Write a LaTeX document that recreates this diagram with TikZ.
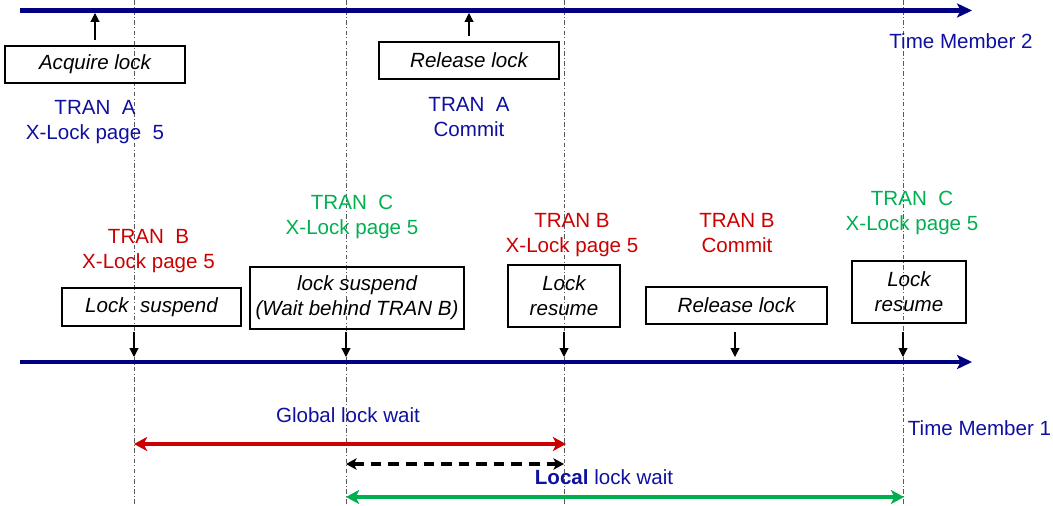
\documentclass[tikz,border=0pt]{standalone}
\usepackage{fontspec}
\setmainfont{Liberation Sans}
\usetikzlibrary{arrows.meta}
\definecolor{axisblue}{RGB}{0,0,128}
\definecolor{textblue}{RGB}{16,16,160}
\definecolor{tranred}{RGB}{204,0,0}
\definecolor{trangreen}{RGB}{0,176,80}
\begin{document}
\begin{tikzpicture}[x=0.02cm,y=-0.02cm,
    every node/.style={inner sep=0pt,font=\fontsize{11.7}{14.2}\selectfont},
    evbox/.style={draw,line width=0.75pt,align=center,font=\fontsize{11.7}{14.2}\selectfont\itshape},
    lbl/.style={align=center},
    timeline/.style={draw=axisblue,line width=2.3pt,-{Stealth[length=8.5pt,width=8pt,inset=2pt]}},
    tick/.style={line width=0.6pt,-{Triangle[length=5pt,width=5pt]}},
    guide/.style={line width=0.5pt,black!65,dash pattern=on 2.6pt off 1.3pt on 0.6pt off 1.3pt},
    span/.style={line width=2.2pt,{Stealth[length=7.5pt,width=8pt,inset=2pt]}-{Stealth[length=7.5pt,width=8pt,inset=2pt]}}]
    \useasboundingbox (0,0) rectangle (1053,506);

    \foreach \x [count=\i] in {134,346,564,903} {
        \coordinate (g\i) at (\x,0); \coordinate (h\i) at (\x,506);
        \draw[guide] (g\i) -- (h\i);
    }

    \coordinate (m2start) at (20,10.5); \coordinate (m2end) at (972,10.5);
    \coordinate (m1start) at (20,362); \coordinate (m1end) at (972,362);
    \draw[timeline] (m2start) -- (m2end);
    \draw[timeline] (m1start) -- (m1end);

    \node[evbox,minimum width=3.6cm,minimum height=0.74cm] (acquire) at (95,64.5) {Acquire lock};
    \node[evbox,minimum width=3.6cm,minimum height=0.74cm] (releaseA) at (469,60.5) {Release lock};
    \node[lbl,textblue] (tranA) at (95,122.5) {TRAN\ \ A\\X-Lock page\ \ 5};
    \node[lbl,textblue] (commitA) at (469,117.5) {TRAN\ \ A\\Commit};
    \node[textblue] (member2) at (961,41) {Time Member 2};

    \node[lbl,tranred] (tranB) at (148.5,251) {TRAN\ \ B\\X-Lock page 5};
    \node[lbl,trangreen] (tranC) at (352,216.5) {TRAN\ \ C\\X-Lock page 5};
    \node[lbl,tranred] (resumeBtxt) at (572,235) {TRAN B\\X-Lock page 5};
    \node[lbl,tranred] (commitB) at (737,233) {TRAN B\\Commit};
    \node[lbl,trangreen] (resumeCtxt) at (912,212.5) {TRAN\ \ C\\X-Lock page 5};

    \node[evbox,minimum width=3.58cm,minimum height=0.76cm] (suspendB) at (151.5,307) {Lock\ \ suspend};
    \node[evbox,minimum width=4.28cm,minimum height=1.24cm] (suspendC) at (357,298) {lock suspend\\(Wait behind TRAN B)};
    \node[evbox,minimum width=2.24cm,minimum height=1.24cm] (resumeB) at (564,296) {Lock\\resume};
    \node[evbox,minimum width=3.62cm,minimum height=0.74cm] (releaseB) at (736.5,305.5) {Release lock};
    \node[evbox,minimum width=2.28cm,minimum height=1.24cm] (resumeC) at (909,292) {Lock\\resume};

    \coordinate (upA1) at (95,13); \coordinate (upA2) at (469,13);
    \draw[tick,shorten <=2.8pt] (acquire) -- (upA1);
    \draw[tick,shorten <=2.8pt] (releaseA) -- (upA2);

    \foreach \x [count=\i] in {134,346,564,735,903} {
        \coordinate (dn\i) at (\x,332); \coordinate (on\i) at (\x,357);
        \draw[tick] (dn\i) -- (on\i);
    }

    \node[textblue] (global) at (348,415) {Global lock wait};
    \node[textblue] (local) at (604,477) {\textbf{Local} lock wait};
    \node[textblue] (member1) at (979.5,428) {Time Member 1};

    \coordinate (gw0) at (134,444); \coordinate (gw1) at (566,444);
    \coordinate (lw0) at (346,464); \coordinate (lw1) at (564,464);
    \coordinate (cw0) at (346,497); \coordinate (cw1) at (904,497);
    \draw[span,draw=tranred,fill=tranred] (gw0) -- (gw1);
    \draw[line width=2pt,dash pattern=on 6pt off 4pt,{Stealth[length=6pt,width=6.5pt,inset=1.5pt]}-{Stealth[length=6pt,width=6.5pt,inset=1.5pt]}] (lw0) -- (lw1);
    \draw[span,line width=2pt,draw=trangreen,fill=trangreen] (cw0) -- (cw1);
\end{tikzpicture}
\end{document}
